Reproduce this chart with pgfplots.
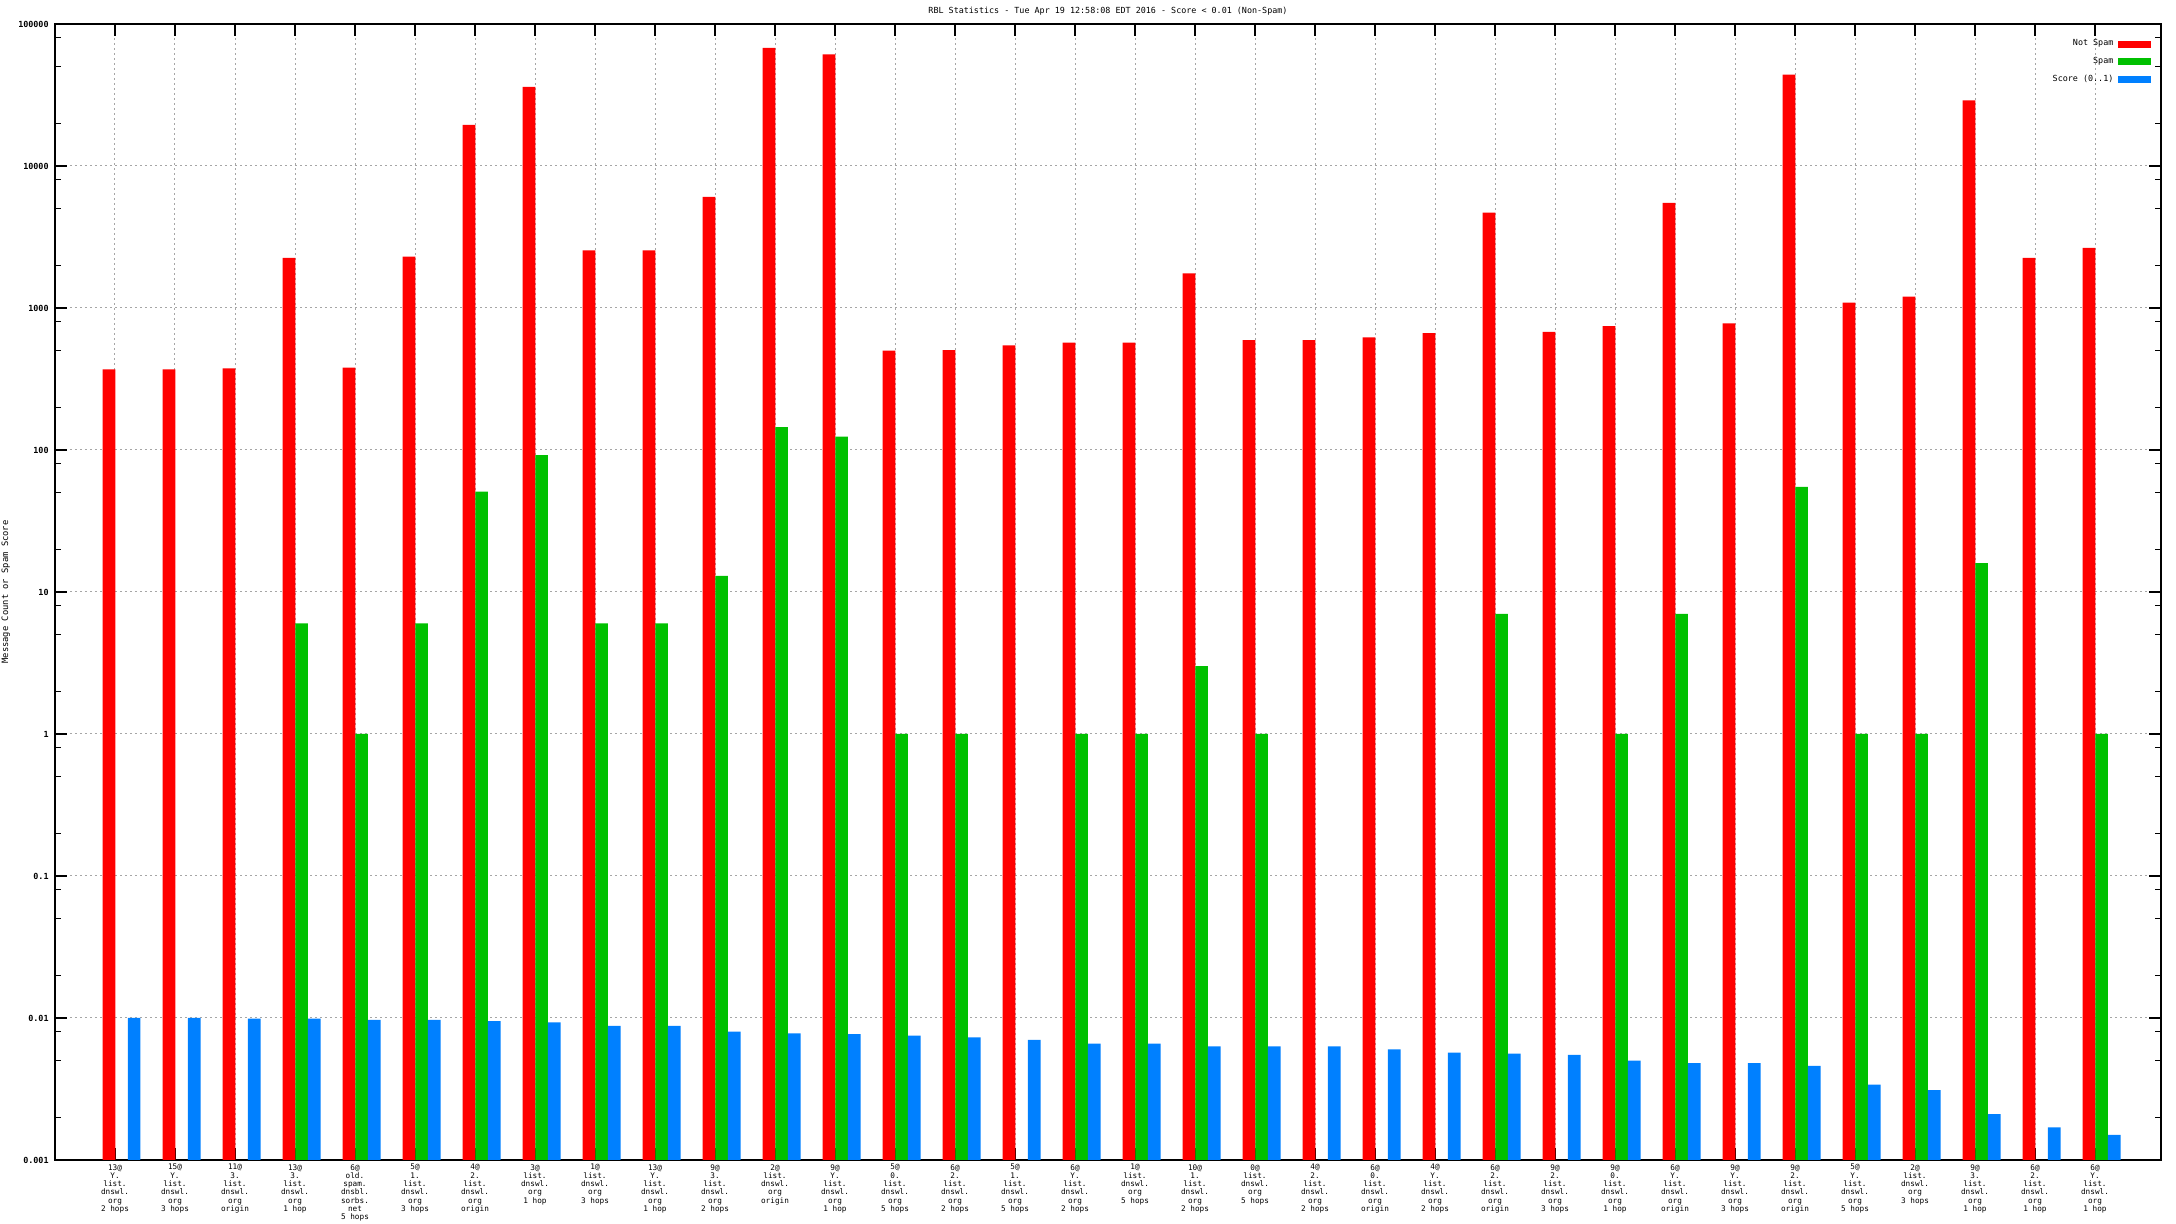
\documentclass[border=0pt]{standalone}
\usepackage{fontspec}
\setmainfont{DejaVu Sans Mono}
\setmonofont{DejaVu Sans Mono}
\usepackage{pgfplots}
\usepackage{pgfplotstable}
\pgfplotsset{compat=1.18}

\definecolor{nsred}{HTML}{FF0000}
\definecolor{spgreen}{HTML}{00C000}
\definecolor{scblue}{HTML}{0080FF}

% i, not spam, spam, score
\pgfplotstableread{
i  red    green  blue
1  370    nan    0.0100
2  370    nan    0.0100
3  375    nan    0.0099
4  2250   6      0.0099
5  380    1      0.0097
6  2300   6      0.0097
7  19500  51     0.0095
8  36000  92     0.0093
9  2550   6      0.0088
10 2550   6      0.0088
11 6050   13     0.0080
12 68000  145    0.0078
13 61000  124    0.0077
14 500    1      0.0075
15 505    1      0.0073
16 545    nan    0.0070
17 570    1      0.0066
18 570    1      0.0066
19 1750   3      0.0063
20 595    1      0.0063
21 595    nan    0.0063
22 620    nan    0.0060
23 665    nan    0.0057
24 4700   7      0.0056
25 680    nan    0.0055
26 745    1      0.0050
27 5500   7      0.0048
28 780    nan    0.0048
29 44000  55     0.0046
30 1090   1      0.0034
31 1200   1      0.0031
32 29000  16     0.0021
33 2250   nan    0.0017
34 2650   1      0.0015
}\rbldata

\newcommand{\xfont}{\ttfamily\fontsize{3.85}{4.15}\selectfont}
\newcommand{\gfont}{\ttfamily\fontsize{4.2}{4.6}\selectfont}

\begin{document}
\begin{tikzpicture}
\pgfplotsset{
  lbar/.style={legend image code/.code={\fill[##1] (0pt,-1.75pt) rectangle (16.5pt,1.75pt);}},
  every axis title shift=0pt,
}
\begin{axis}[
    name=ax,
    scale only axis,
    width=1053pt, height=568pt,
    ymode=log, log origin=infty,
    ymin=1e-3, ymax=1e5,
    xmin=0, xmax=35.1,
    xtick={1,...,34},
    xticklabels={
      {13@\\Y.\\list.\\dnswl.\\org\\2 hops},
      {15@\\Y.\\list.\\dnswl.\\org\\3 hops},
      {11@\\3.\\list.\\dnswl.\\org\\origin},
      {13@\\3.\\list.\\dnswl.\\org\\1 hop},
      {6@\\old.\\spam.\\dnsbl.\\sorbs.\\net\\5 hops},
      {5@\\1.\\list.\\dnswl.\\org\\3 hops},
      {4@\\2.\\list.\\dnswl.\\org\\origin},
      {3@\\list.\\dnswl.\\org\\1 hop},
      {1@\\list.\\dnswl.\\org\\3 hops},
      {13@\\Y.\\list.\\dnswl.\\org\\1 hop},
      {9@\\3.\\list.\\dnswl.\\org\\2 hops},
      {2@\\list.\\dnswl.\\org\\origin},
      {9@\\Y.\\list.\\dnswl.\\org\\1 hop},
      {5@\\0.\\list.\\dnswl.\\org\\5 hops},
      {6@\\2.\\list.\\dnswl.\\org\\2 hops},
      {5@\\1.\\list.\\dnswl.\\org\\5 hops},
      {6@\\Y.\\list.\\dnswl.\\org\\2 hops},
      {1@\\list.\\dnswl.\\org\\5 hops},
      {10@\\1.\\list.\\dnswl.\\org\\2 hops},
      {0@\\list.\\dnswl.\\org\\5 hops},
      {4@\\2.\\list.\\dnswl.\\org\\2 hops},
      {6@\\0.\\list.\\dnswl.\\org\\origin},
      {4@\\Y.\\list.\\dnswl.\\org\\2 hops},
      {6@\\2.\\list.\\dnswl.\\org\\origin},
      {9@\\2.\\list.\\dnswl.\\org\\3 hops},
      {9@\\0.\\list.\\dnswl.\\org\\1 hop},
      {6@\\Y.\\list.\\dnswl.\\org\\origin},
      {9@\\Y.\\list.\\dnswl.\\org\\3 hops},
      {9@\\2.\\list.\\dnswl.\\org\\origin},
      {5@\\Y.\\list.\\dnswl.\\org\\5 hops},
      {2@\\list.\\dnswl.\\org\\3 hops},
      {9@\\3.\\list.\\dnswl.\\org\\1 hop},
      {6@\\2.\\list.\\dnswl.\\org\\1 hop},
      {6@\\Y.\\list.\\dnswl.\\org\\1 hop},
    },
    xticklabel style={font=\xfont, align=center, anchor=north, inner sep=0pt, yshift=-2pt},
    ytick={1e-3,1e-2,1e-1,1,10,100,1000,10000,100000},
    yticklabels={0.001,0.01,0.1,1,10,100,1000,10000,100000},
    minor ytick={2e-3,5e-3,8e-3,2e-2,5e-2,8e-2,2e-1,5e-1,8e-1,2,5,8,20,50,80,200,500,800,2000,5000,8000,20000,50000,80000},
    yticklabel style={font=\gfont\bfseries, inner sep=0pt, xshift=-3pt},
    grid=major,
    major grid style={gray!70, dash pattern=on 1pt off 1.5pt, line width=0.5pt},
    axis line style={black, line width=0.6pt},
    tick style={black, line width=0.6pt},
    major tick length=6pt,
    minor tick length=3pt,
    title={RBL Statistics - Tue Apr 19 12:58:08 EDT 2016 - Score < 0.01 (Non-Spam)},
    title style={font=\gfont, at={(axis description cs:0.5,1)}, anchor=south, inner sep=0pt, yshift=4pt},
    ylabel={Message Count or Spam Score},
    ylabel style={font=\ttfamily\fontsize{4.4}{4.8}\selectfont, at={(axis description cs:-0.0233,0.5)}, anchor=center},
    legend style={at={(axis description cs:1,1)}, anchor=north east, xshift=-5pt, yshift=-7pt,
      draw=none, fill=none, font=\gfont, row sep=3pt, inner sep=0pt,
      nodes={inner sep=0.6pt}, column sep=1.5pt},
    legend cell align=right,
    legend plot pos=right,
]
\addplot[ybar, lbar, fill=nsred, draw=none, bar width=0.21, bar shift=0pt]
  table[x expr=\thisrow{i}-0.1, y=red] {\rbldata};
\addlegendentry{Not Spam}
\addplot[ybar, lbar, fill=spgreen, draw=none, bar width=0.21, bar shift=0pt]
  table[x expr=\thisrow{i}+0.11, y=green] {\rbldata};
\addlegendentry{Spam}
\addplot[ybar, lbar, fill=scblue, draw=none, bar width=0.21, bar shift=0pt]
  table[x expr=\thisrow{i}+0.32, y=blue] {\rbldata};
\addlegendentry{Score (0..1)}
\end{axis}
\pgfresetboundingbox
\path ([shift={(-27.5pt,-32pt)}]ax.south west) rectangle ([shift={(7.5pt,12pt)}]ax.north east);
\end{tikzpicture}
\end{document}
